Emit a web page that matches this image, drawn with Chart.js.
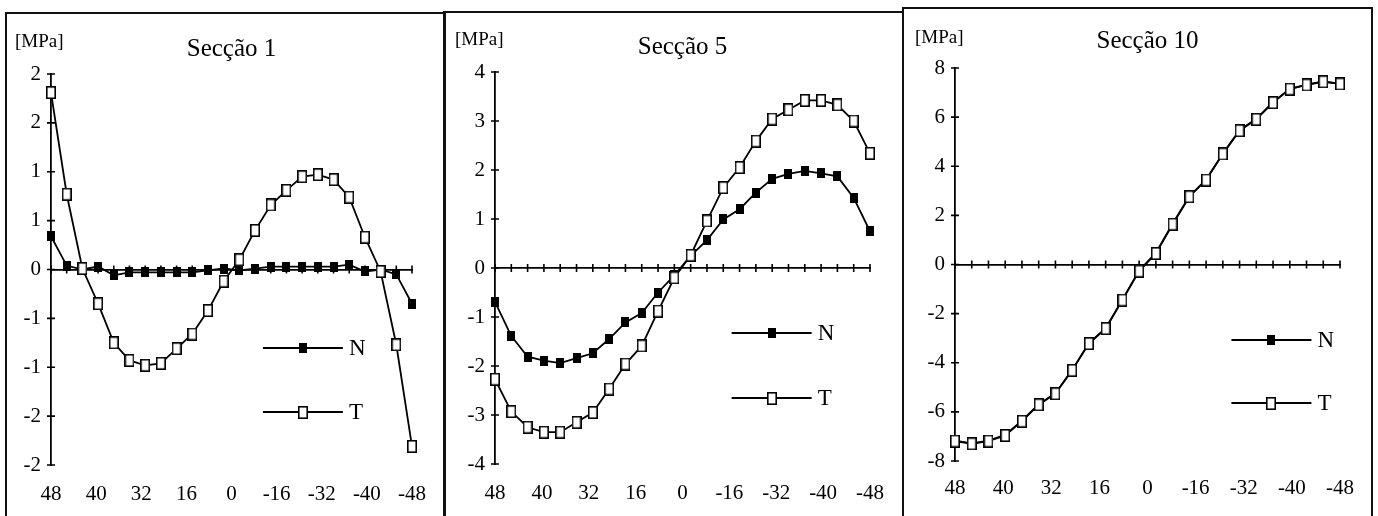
<!DOCTYPE html>
<html><head><meta charset="utf-8">
<script src="https://cdn.jsdelivr.net/npm/chart.js@4"></script>
<style>
html,body{margin:0;padding:0;background:#fff;}
body{width:1378px;height:516px;position:relative;overflow:hidden;}
.panel{position:absolute;border:2px solid #111;box-sizing:border-box;}
canvas{position:absolute;}
</style></head><body>
<div class="panel" style="left:5px;top:12px;width:441px;height:530px"></div>
<div class="panel" style="left:443px;top:11px;width:461px;height:530px"></div>
<div class="panel" style="left:902px;top:7px;width:471px;height:530px"></div>
<canvas id="c1" width="435" height="501" style="left:8px;top:15px;width:435px;height:501px"></canvas>
<canvas id="c2" width="454" height="501" style="left:447px;top:15px;width:454px;height:501px"></canvas>
<canvas id="c3" width="463" height="506" style="left:906px;top:10px;width:463px;height:506px"></canvas>
<script>
// ---- data ----
const positions = ['1','2','3','4','5','6','7','8','9','10','11','12','13','14','15','16','17','18','19','20','21','22','23','24'];
const xTickLabels = ['48','40','32','16','0','-16','-32','-40','-48'];
const yTickLabels1 = ['-2','-2','-1','-1','0','1','1','2','2']; // bottom to top
const titles = ['Secção 1','Secção 5','Secção 10'];
const unitLabel = '[MPa]';
const seriesNames = ['N','T'];

const s1N = [0.34, 0.04, 0.00, 0.03, -0.06, -0.03, -0.03, -0.03, -0.03, -0.03, -0.01, 0.01, -0.01, 0.01, 0.03, 0.03, 0.03, 0.03, 0.03, 0.05, -0.02, 0.00, -0.05, -0.35];
const s1T = [1.81, 0.77, 0.01, -0.35, -0.75, -0.93, -0.98, -0.96, -0.81, -0.66, -0.42, -0.12, 0.10, 0.40, 0.66, 0.81, 0.95, 0.97, 0.92, 0.74, 0.33, -0.02, -0.77, -1.81];

const s5N = [-0.69, -1.39, -1.81, -1.89, -1.94, -1.84, -1.74, -1.45, -1.11, -0.92, -0.50, -0.15, 0.25, 0.57, 0.99, 1.20, 1.54, 1.82, 1.92, 1.98, 1.93, 1.87, 1.43, 0.75];
const s5T = [-2.27, -2.93, -3.25, -3.35, -3.35, -3.15, -2.95, -2.47, -1.96, -1.59, -0.88, -0.20, 0.26, 0.96, 1.64, 2.05, 2.59, 3.04, 3.23, 3.42, 3.42, 3.33, 3.00, 2.34];

const s10N = [-7.17, -7.28, -7.17, -6.94, -6.36, -5.69, -5.24, -4.29, -3.20, -2.59, -1.43, -0.25, 0.47, 1.66, 2.78, 3.46, 4.52, 5.47, 5.93, 6.61, 7.15, 7.32, 7.45, 7.36];
const s10T = [-7.19, -7.30, -7.19, -6.96, -6.38, -5.71, -5.26, -4.31, -3.22, -2.61, -1.45, -0.27, 0.45, 1.64, 2.76, 3.44, 4.50, 5.45, 5.91, 6.59, 7.14, 7.31, 7.44, 7.35];

// ---- styling ----
const FONT = "'Liberation Serif', 'Times New Roman', serif";
Chart.defaults.font.family = FONT;
Chart.defaults.color = '#000';

function markerCanvas(w, h, fill) {
  const c = document.createElement('canvas'); c.width = w; c.height = h;
  const g = c.getContext('2d');
  g.fillStyle = fill; g.fillRect(0, 0, w, h);
  g.strokeStyle = '#000'; g.lineWidth = 1.6; g.strokeRect(0.8, 0.8, w - 1.6, h - 1.6);
  return c;
}
const markN = markerCanvas(8, 10, '#000');
const markT = markerCanvas(10, 13, '#fff');

const decorPlugin = {
  id: 'decor',
  beforeDatasetsDraw(chart, args, o) {
    const ctx = chart.ctx, xs = chart.scales.x, ys = chart.scales.y;
    const y0 = ys.getPixelForValue(0);
    ctx.save(); ctx.strokeStyle = '#000'; ctx.lineWidth = 1.6;
    ctx.beginPath();
    chart.data.labels.forEach((l, i) => {
      const px = xs.getPixelForValue(i);
      ctx.moveTo(px, y0 - o.tick); ctx.lineTo(px, y0 + o.tick);
    });
    ys.ticks.forEach(t => {
      const py = ys.getPixelForValue(t.value);
      ctx.moveTo(ys.right - o.tick, py); ctx.lineTo(ys.right + o.tick, py);
    });
    ctx.stroke(); ctx.restore();
  },
  afterDraw(chart, args, o) {
    const ctx = chart.ctx, ca = chart.chartArea, ys = chart.scales.y;
    ctx.save();
    ctx.fillStyle = '#000';
    ctx.textBaseline = 'middle'; ctx.textAlign = 'left';
    ctx.font = '19px ' + FONT;
    ctx.fillText(o.unit, ys.right + o.unitDx, ca.top + o.unitDy);
    const lx = ca.left + o.legendX * (ca.right - ca.left);
    chart.data.datasets.forEach((ds, i) => {
      const ly = Math.round(ca.top + o.legendY[i] * (ca.bottom - ca.top));
      ctx.beginPath(); ctx.moveTo(lx, ly); ctx.lineTo(lx + o.legendLen, ly);
      ctx.lineWidth = 1.8; ctx.strokeStyle = '#000'; ctx.stroke();
      const img = ds.pointStyle;
      ctx.drawImage(img, Math.round(lx + o.legendLen / 2 - img.width / 2), Math.round(ly - img.height / 2));
      ctx.font = '23px ' + FONT;
      ctx.fillText(ds.label, lx + o.legendLen + 6, ly + 1);
    });
    ctx.restore();
  }
};

function makeChart(id, p) {
  return new Chart(document.getElementById(id), {
    type: 'line',
    data: {
      labels: positions,
      datasets: [
        { label: seriesNames[0], data: p.N, borderColor: '#000', borderWidth: 1.8, pointStyle: markN, pointRadius: 6, tension: 0, order: 1, clip: false, xAxisID: 'x', yAxisID: 'y' },
        { label: seriesNames[1], data: p.T, borderColor: '#000', borderWidth: 1.8, pointStyle: markT, pointRadius: 6, tension: 0, order: 0, clip: false, xAxisID: 'x', yAxisID: 'y' }
      ]
    },
    options: {
      responsive: false, animation: false, devicePixelRatio: 1,
      layout: { padding: { left: 0, right: p.padR, top: 0, bottom: 0 } },
      plugins: {
        legend: { display: false }, tooltip: { enabled: false },
        title: { display: true, text: p.title, fullSize: false, color: '#000',
                 font: { family: FONT, size: 25, weight: 'normal', lineHeight: 1 },
                 padding: { top: p.titleTop, bottom: p.titleBottom } },
        decor: { tick: 4, unit: unitLabel, unitDx: p.unitDx, unitDy: p.unitDy, legendX: p.legendX, legendY: p.legendY, legendLen: 80 }
      },
      scales: {
        x: { type: 'category', position: { y: 0 }, offset: false,
             ticks: { display: false },
             grid: { display: true, drawOnChartArea: false, drawTicks: false },
             border: { display: true, color: '#000', width: 1.8 } },
        xLab: { type: 'linear', axis: 'x', position: 'bottom', min: 0, max: xTickLabels.length - 1,
                ticks: { stepSize: 1, autoSkip: false, maxRotation: 0, padding: p.xPad, color: '#000',
                         font: { family: FONT, size: 21 }, callback: v => xTickLabels[v] },
                grid: { display: false, drawTicks: false }, border: { display: false },
                afterFit: s => { s.height = p.xH; } },
        y: { type: 'linear', position: 'left', min: p.min, max: p.max,
             ticks: { stepSize: p.step, padding: 10, color: '#000', font: { family: FONT, size: 21 },
                      callback: p.yLabels ? ((v, i) => p.yLabels[i]) : (v => String(v)) },
             grid: { drawOnChartArea: false, drawTicks: false },
             border: { display: true, color: '#000', width: 1.8 },
             afterFit: s => { s.width = p.yW; } }
      }
    },
    plugins: [decorPlugin]
  });
}

makeChart('c1', { N: s1N, T: s1T, title: titles[0], min: -2, max: 2, step: 0.5, yLabels: yTickLabels1,
  yW: 43, padR: 22, titleTop: 22, titleBottom: 12, xH: 51, xPad: 17,
  unitDx: -36, unitDy: -32, legendX: 0.587, legendY: [0.70, 0.864] });
makeChart('c2', { N: s5N, T: s5T, title: titles[1], min: -4, max: 4, step: 1,
  yW: 48, padR: 23, titleTop: 20, titleBottom: 12, xH: 52, xPad: 17,
  unitDx: -40, unitDy: -32, legendX: 0.631, legendY: [0.666, 0.831] });
makeChart('c3', { N: s10N, T: s10T, title: titles[2], min: -8, max: 8, step: 2,
  yW: 49, padR: 24, titleTop: 19, titleBottom: 14, xH: 55, xPad: 15,
  unitDx: -40, unitDy: -30, legendX: 0.718, legendY: [0.692, 0.853] });
</script>
</body></html>
